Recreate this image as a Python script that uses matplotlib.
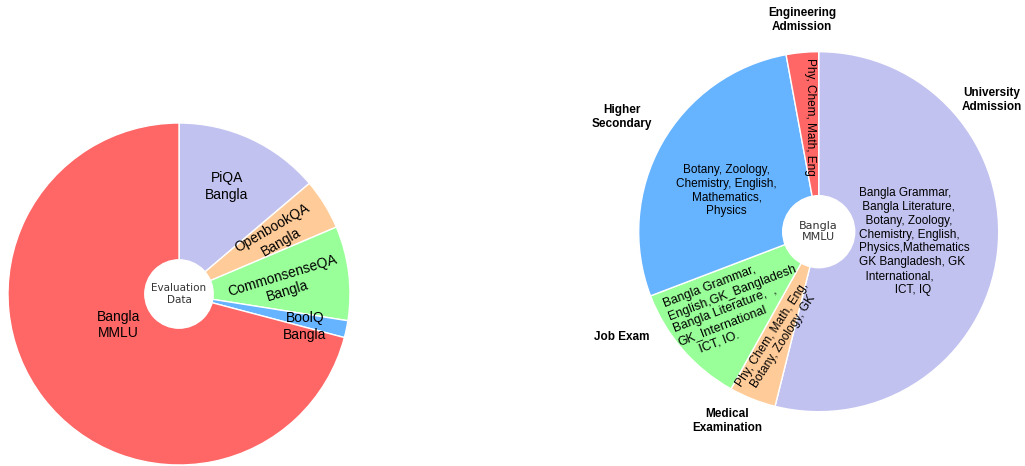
import matplotlib.pyplot as plt
from matplotlib.patches import Circle

# left pie: evaluation data share (%)
eval_names = ["PiQA\nBangla", "OpenbookQA\nBangla", "CommonsenseQA\nBangla",
              "BoolQ\nBangla", "Bangla\nMMLU"]
eval_share = [13.8, 4.8, 8.9, 1.6, 70.9]
eval_colors = ["#c2c2f0", "#ffcc99", "#99ff99", "#66b3ff", "#ff6666"]

# right pie: Bangla MMLU sources (%)
src_names = ["University\nAdmission", "Medical\nExamination", "Job Exam",
             "Higher\nSecondary", "Engineering\nAdmission"]
src_share = [53.9, 4.2, 11.1, 27.9, 2.9]
src_colors = ["#c2c2f0", "#ffcc99", "#99ff99", "#66b3ff", "#ff6666"]
src_subjects = [
    "Bangla Grammar,\n Bangla Literature,\n  Botany, Zoology,\nChemistry, English,\n"
    "Physics,Mathematics\nGK Bangladesh, GK\n  International,\n           ICT, IQ",
    "Phy, Chem, Math, Eng,\nBotany, Zoology, GK",
    "Bangla Grammar,\nEnglish,GK_Bangladesh\nBangla Literature,  ,\nGK_International\n     ICT, IO.",
    "Botany, Zoology,\nChemistry, English,\nMathematics,\nPhysics",
    "Phy, Chem, Math, Eng",
]

# label layout (x, y, rotation, fontsize, alignment) in pie radius units
eval_pos = [(0.279, 0.627, 0), (0.571, 0.345, 30), (0.620, 0.063, 17),
            (0.737, -0.191, 0), (-0.355, -0.181, 0)]
subj_pos = [(0.53, -0.055, 0, 8.5, "left"), (-0.226, -0.59, 57, 8.6, "center"),
            (-0.452, -0.41, 21, 9, "left"), (-0.511, 0.228, 0, 8.5, "center"),
            (-0.048, 0.639, 270, 8.5, "center")]
src_pos = [(0.963, 0.732), (-0.509, -1.052), (-1.093, -0.585),
           (-1.093, 0.635), (-0.093, 1.176)]

W, H = 1025, 466
fig = plt.figure(figsize=(W / 100, H / 100), dpi=100)


def make_ax(cx, cy, r):
    # cx, cy, r in pixels (cy from the top)
    return fig.add_axes([(cx - r) / W, (H - cy - r) / H, 2 * r / W, 2 * r / H])


wp = dict(edgecolor="white", linewidth=1)

ax1 = make_ax(179, 294, 171)
ax1.pie(eval_share, colors=eval_colors, startangle=90, counterclock=False,
        wedgeprops=wp)
ax1.add_patch(Circle((0, 0), 0.2, color="white", zorder=3))
ax1.text(0, 0, "Evaluation\nData", ha="center", va="center", fontsize=7.5,
         color="#333333", zorder=4)
for name, (x, y, rot) in zip(eval_names, eval_pos):
    ax1.text(x, y, name, ha="center", va="center", rotation=rot,
             rotation_mode="anchor", fontsize=10, family="Liberation Sans",
             linespacing=1.25)
ax1.set_xlim(-1, 1)
ax1.set_ylim(-1, 1)
ax1.set_aspect("equal")

ax2 = make_ax(818.7, 231.7, 180)
ax2.pie(src_share, colors=src_colors, startangle=90, counterclock=False,
        wedgeprops=wp)
ax2.add_patch(Circle((0, 0), 0.2, color="white", zorder=3))
ax2.text(0, 0, "Bangla\nMMLU", ha="center", va="center", fontsize=8,
         color="#333333", zorder=4)
for txt, (x, y, rot, fs, ma) in zip(src_subjects, subj_pos):
    ax2.text(x, y, txt, ha="center", va="center", rotation=rot,
             rotation_mode="anchor", multialignment=ma, fontsize=fs,
             family="Liberation Sans", linespacing=1.2)
for name, (x, y) in zip(src_names, src_pos):
    ax2.text(x, y, name, ha="center", va="center", fontsize=8.5,
             fontweight="bold", family="Liberation Sans", linespacing=1.2)
ax2.set_xlim(-1, 1)
ax2.set_ylim(-1, 1)
ax2.set_aspect("equal")

fig.savefig("out.png", dpi=100)
